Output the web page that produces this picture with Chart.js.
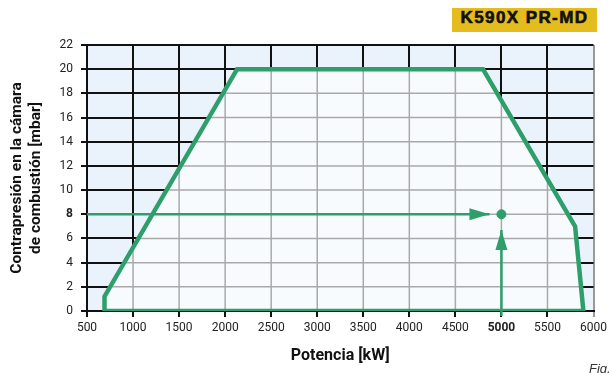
<!DOCTYPE html>
<html>
<head>
<meta charset="utf-8">
<script src="https://cdn.jsdelivr.net/npm/chart.js@4"></script>
<style>
  body { margin: 0; background: #fff; }
  #wrap { position: relative; width: 611px; height: 373px; overflow: hidden; }
  .badge {
    position: absolute; left: 452px; top: 8px; width: 145px; height: 24px;
    background: #e5bc1e; color: #111; text-align: center; line-height: 25px;
    font: bold 17px 'Liberation Sans', Arial, sans-serif; letter-spacing: 1.4px;
    -webkit-text-stroke: 0.6px #111;
  }
  .fig {
    position: absolute; left: 589px; top: 361px;
    font: italic 13px 'Liberation Sans', Arial, sans-serif; color: #333;
  }
</style>
</head>
<body>
<div id="wrap">
  <canvas id="chart" width="611" height="373"></canvas>
  <div class="badge">K590X PR-MD</div>
  <div class="fig">Fig.</div>
</div>
<script>
// working range (envelope)
const envX = [690, 690, 2130, 4800, 5800, 5890, 690];
const envY = [0, 1.2, 20, 20, 7, 0, 0];
// reading example
const arrowHX = [500, 4870];
const arrowHY = [8, 8];
const arrowVX = [5000, 5000];
const arrowVY = [-0.4, 6.7];
const pointX = [5000];
const pointY = [8];
// axis ticks
const xMin = 500, xMax = 6000, xStep = 500;
const yMin = 0, yMax = 22, yStep = 2;
const boldX = 5000, boldY = 8;

const green = '#2e9e6b';
const family = "Roboto, 'Liberation Sans', sans-serif";

function pts(xs, ys) {
  return xs.map((x, i) => ({ x: x, y: ys[i] }));
}

// blue background, then lighter inside the envelope with grey grid
const areaPlugin = {
  id: 'area',
  beforeDraw(chart) {
    const a = chart.chartArea, ctx = chart.ctx;
    ctx.save();
    ctx.fillStyle = '#eaf3fb';
    ctx.fillRect(a.left, a.top, a.right - a.left, a.bottom - a.top);
    ctx.restore();
  },
  beforeDatasetsDraw(chart) {
    const ctx = chart.ctx;
    const meta = chart.getDatasetMeta(0);
    const xs = chart.scales.x, ys = chart.scales.y;
    ctx.save();
    ctx.beginPath();
    meta.data.forEach((p, i) => i ? ctx.lineTo(p.x, p.y) : ctx.moveTo(p.x, p.y));
    ctx.closePath();
    ctx.fillStyle = '#f8fbfe';
    ctx.fill();
    ctx.clip();
    ctx.strokeStyle = '#a9a9a9';
    ctx.lineWidth = 1.5;
    xs.ticks.forEach((t, i) => {
      const px = xs.getPixelForTick(i);
      ctx.beginPath(); ctx.moveTo(px, ys.top); ctx.lineTo(px, ys.bottom); ctx.stroke();
    });
    ys.ticks.forEach((t, i) => {
      const py = ys.getPixelForTick(i);
      ctx.beginPath(); ctx.moveTo(xs.left, py); ctx.lineTo(xs.right, py); ctx.stroke();
    });
    ctx.restore();
  },
  afterDatasetsDraw(chart) {
    // arrow heads at the end of the arrow datasets
    const ctx = chart.ctx;
    chart.data.datasets.forEach((ds, di) => {
      if (!ds.arrowHead) return;
      const d = chart.getDatasetMeta(di).data;
      const p1 = d[d.length - 1], p0 = d[d.length - 2];
      const len = Math.hypot(p1.x - p0.x, p1.y - p0.y);
      const ux = (p1.x - p0.x) / len, uy = (p1.y - p0.y) / len;
      const hl = 20, hw = 6;
      const bx = p1.x - ux * hl, by = p1.y - uy * hl;
      ctx.save();
      ctx.fillStyle = ds.borderColor;
      ctx.beginPath();
      ctx.moveTo(p1.x, p1.y);
      ctx.lineTo(bx - uy * hw, by + ux * hw);
      ctx.lineTo(bx + uy * hw, by - ux * hw);
      ctx.closePath();
      ctx.fill();
      ctx.restore();
    });
  }
};

new Chart(document.getElementById('chart'), {
  type: 'scatter',
  data: {
    datasets: [
      {
        data: pts(envX, envY),
        showLine: true,
        borderColor: green,
        borderWidth: 4.5,
        borderJoinStyle: 'miter',
        pointRadius: 0,
        fill: false
      },
      {
        data: pts(arrowHX, arrowHY),
        showLine: true,
        arrowHead: true,
        borderColor: green,
        borderWidth: 2.5,
        pointRadius: 0,
        clip: false
      },
      {
        data: pts(arrowVX, arrowVY),
        showLine: true,
        arrowHead: true,
        borderColor: green,
        borderWidth: 2.5,
        pointRadius: 0,
        clip: false
      },
      {
        data: pts(pointX, pointY),
        backgroundColor: green,
        borderColor: green,
        pointRadius: 4.5
      }
    ]
  },
  options: {
    responsive: false,
    animation: false,
    layout: { padding: { top: 45, right: 16, left: 0, bottom: 0 } },
    plugins: { legend: { display: false }, tooltip: { enabled: false } },
    scales: {
      x: {
        type: 'linear',
        min: xMin, max: xMax,
        afterFit(s) { s.height = 62; },
        ticks: {
          stepSize: xStep,
          color: '#222',
          padding: 4,
          maxRotation: 0,
          callback: (v) => String(v),
          font: (c) => ({ family: family, size: 12, weight: c.tick && c.tick.value === boldX ? 'bold' : 'normal' })
        },
        grid: {
          color: (c) => c.tick && c.tick.value === xMax ? '#9a9a9a' : '#111',
          lineWidth: 2,
          tickLength: 6
        },
        border: { color: '#111', width: 2 },
        title: {
          display: true,
          text: 'Potencia [kW]',
          color: '#111',
          font: { family: family, size: 16, weight: 'bold' },
          padding: { top: 0, bottom: 7 }
        }
      },
      y: {
        min: yMin, max: yMax,
        afterFit(s) { s.width = 87; },
        ticks: {
          stepSize: yStep,
          color: '#222',
          padding: 8,
          callback: (v) => String(v),
          font: (c) => ({ family: family, size: 12, weight: c.tick && c.tick.value === boldY ? 'bold' : 'normal' })
        },
        grid: { color: '#111', lineWidth: 2, tickLength: 6 },
        border: { color: '#111', width: 2 },
        title: {
          display: true,
          text: ['Contrapresión en la cámara', 'de combustión [mbar]'],
          color: '#111',
          font: { family: family, size: 15.5, weight: 'bold', lineHeight: 1.2 },
          padding: { top: 8, bottom: 0 }
        }
      }
    }
  },
  plugins: [areaPlugin]
});
</script>
</body>
</html>
